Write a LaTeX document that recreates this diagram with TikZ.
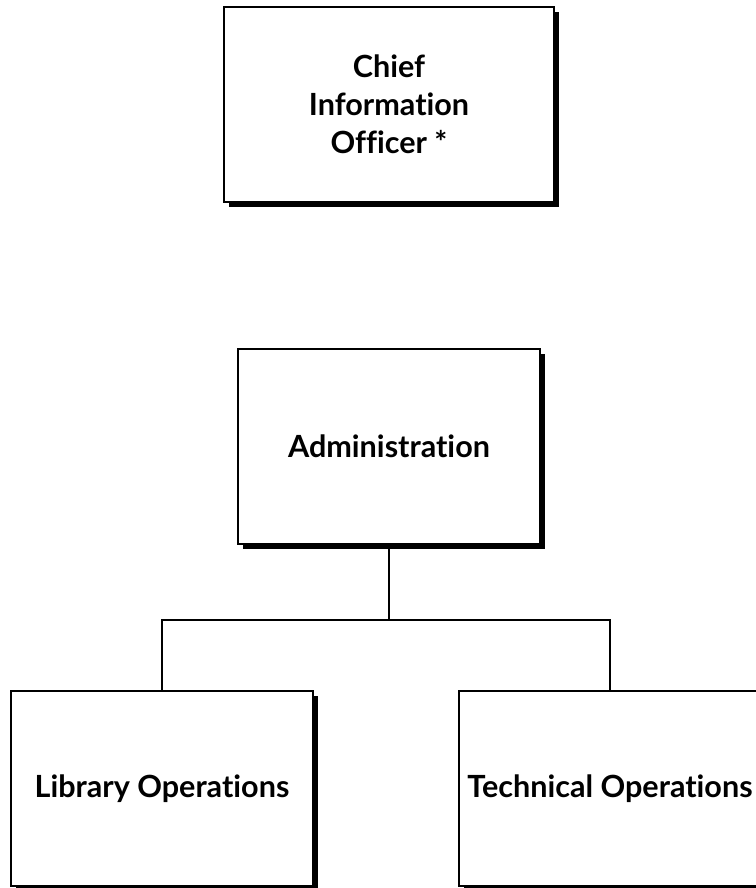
\documentclass[tikz,border=0pt]{standalone}
\usepackage{fontspec}
\usepackage{tikz}
\usetikzlibrary{shadows, positioning}
\newfontfamily\orgfont[Ligatures={NoCommon}]{Lato}
\tikzset{
	orgbox/.style   ={rectangle, draw=black, line width=1.1pt, fill=white, align=center, minimum width=6.04cm, minimum height=3.9cm, inner sep=0pt, font=\orgfont\bfseries\fontsize{17.4}{21.5}\selectfont, general shadow={fill=black, shadow xshift=0.1cm, shadow yshift=-0.1cm}},
	orgline/.style  ={draw=black, line width=0.6pt},
}
\begin{document}
\begin{tikzpicture}[x=0.02cm, y=-0.02cm]
			\useasboundingbox (0,0) rectangle (756,888);
			% ---- top ----
			\node[orgbox, minimum width=6.6cm] (cio) at (389,104.5) {Chief\\ Information\\ Officer *};
			% ---- middle ----
			\node[orgbox] (admin) at (389,446.5) {Administration};
			% ---- bottom row ----
			\node[orgbox] (lib) at (162,788.5) {Library Operations};
			\node[orgbox] (tech) at (610,788.5) {Technical Operations};
			% ---- connectors ----
			\coordinate (bar) at (389,620);
			\draw[orgline] (admin.south) -- (bar);
			\draw[orgline] (lib.north) |- (bar) -| (tech.north);
		\end{tikzpicture}
\end{document}
